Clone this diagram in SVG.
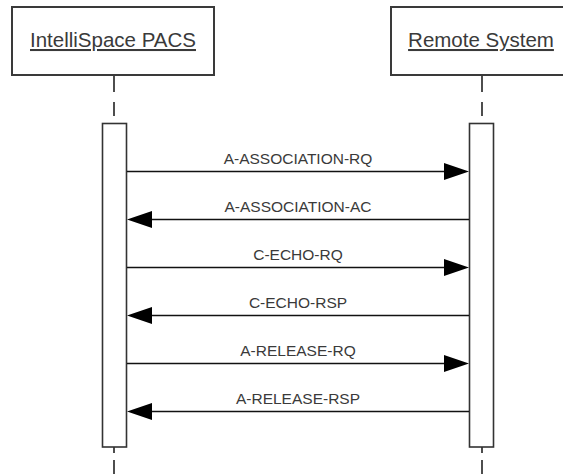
<svg xmlns="http://www.w3.org/2000/svg" width="563" height="474" viewBox="0 0 563 474">
<style>
.hdr{fill:#fff;stroke:#3a3a3a;stroke-width:2}
.act{fill:#fff;stroke:#333;stroke-width:1.6}
.life{stroke:#222;stroke-width:1.6;fill:none}
.ht{font-family:"Liberation Sans",Arial,sans-serif;font-size:20.5px;fill:#3a3a3a;text-anchor:middle;text-decoration:underline}
.ml{font-family:"Liberation Sans",Arial,sans-serif;font-size:15.5px;fill:#3a3a3a;text-anchor:middle}
.msg{stroke:#111;stroke-width:1.5;fill:none}
.ah{fill:#000}
</style>
<rect width="563" height="474" fill="#fff"/>
<g id="lifelines">
<path class="life" d="M114 76V92M114 102V116M114 447V453M114 460V474"/>
<path class="life" d="M482 76V92M482 102V116M482 447V453M482 460V474"/>
</g>
<g id="pacs">
<rect class="hdr" x="12" y="7" width="202" height="68"/>
<text class="ht" x="113" y="47">IntelliSpace PACS</text>
<rect class="act" x="102.5" y="123.5" width="24" height="323.5"/>
</g>
<g id="remote">
<rect class="hdr" x="391" y="7" width="182" height="68"/>
<text class="ht" x="481" y="47">Remote System</text>
<rect class="act" x="469.5" y="123.5" width="24" height="323.5"/>
</g>
<g id="connectors">
<path class="msg" d="M127 171.5H445"/>
<path class="ah" d="M469 171.5L444 163V180Z"/>
<text class="ml" x="298" y="164">A-ASSOCIATION-RQ</text>
<path class="msg" d="M469 219.5H151"/>
<path class="ah" d="M127 219.5L152 211V228Z"/>
<text class="ml" x="298" y="212">A-ASSOCIATION-AC</text>
<path class="msg" d="M127 267.5H445"/>
<path class="ah" d="M469 267.5L444 259V276Z"/>
<text class="ml" x="298" y="260">C-ECHO-RQ</text>
<path class="msg" d="M469 315.5H151"/>
<path class="ah" d="M127 315.5L152 307V324Z"/>
<text class="ml" x="298" y="308">C-ECHO-RSP</text>
<path class="msg" d="M127 363.5H445"/>
<path class="ah" d="M469 363.5L444 355V372Z"/>
<text class="ml" x="298" y="356">A-RELEASE-RQ</text>
<path class="msg" d="M469 411.5H151"/>
<path class="ah" d="M127 411.5L152 403V420Z"/>
<text class="ml" x="298" y="404">A-RELEASE-RSP</text>
</g>
</svg>
